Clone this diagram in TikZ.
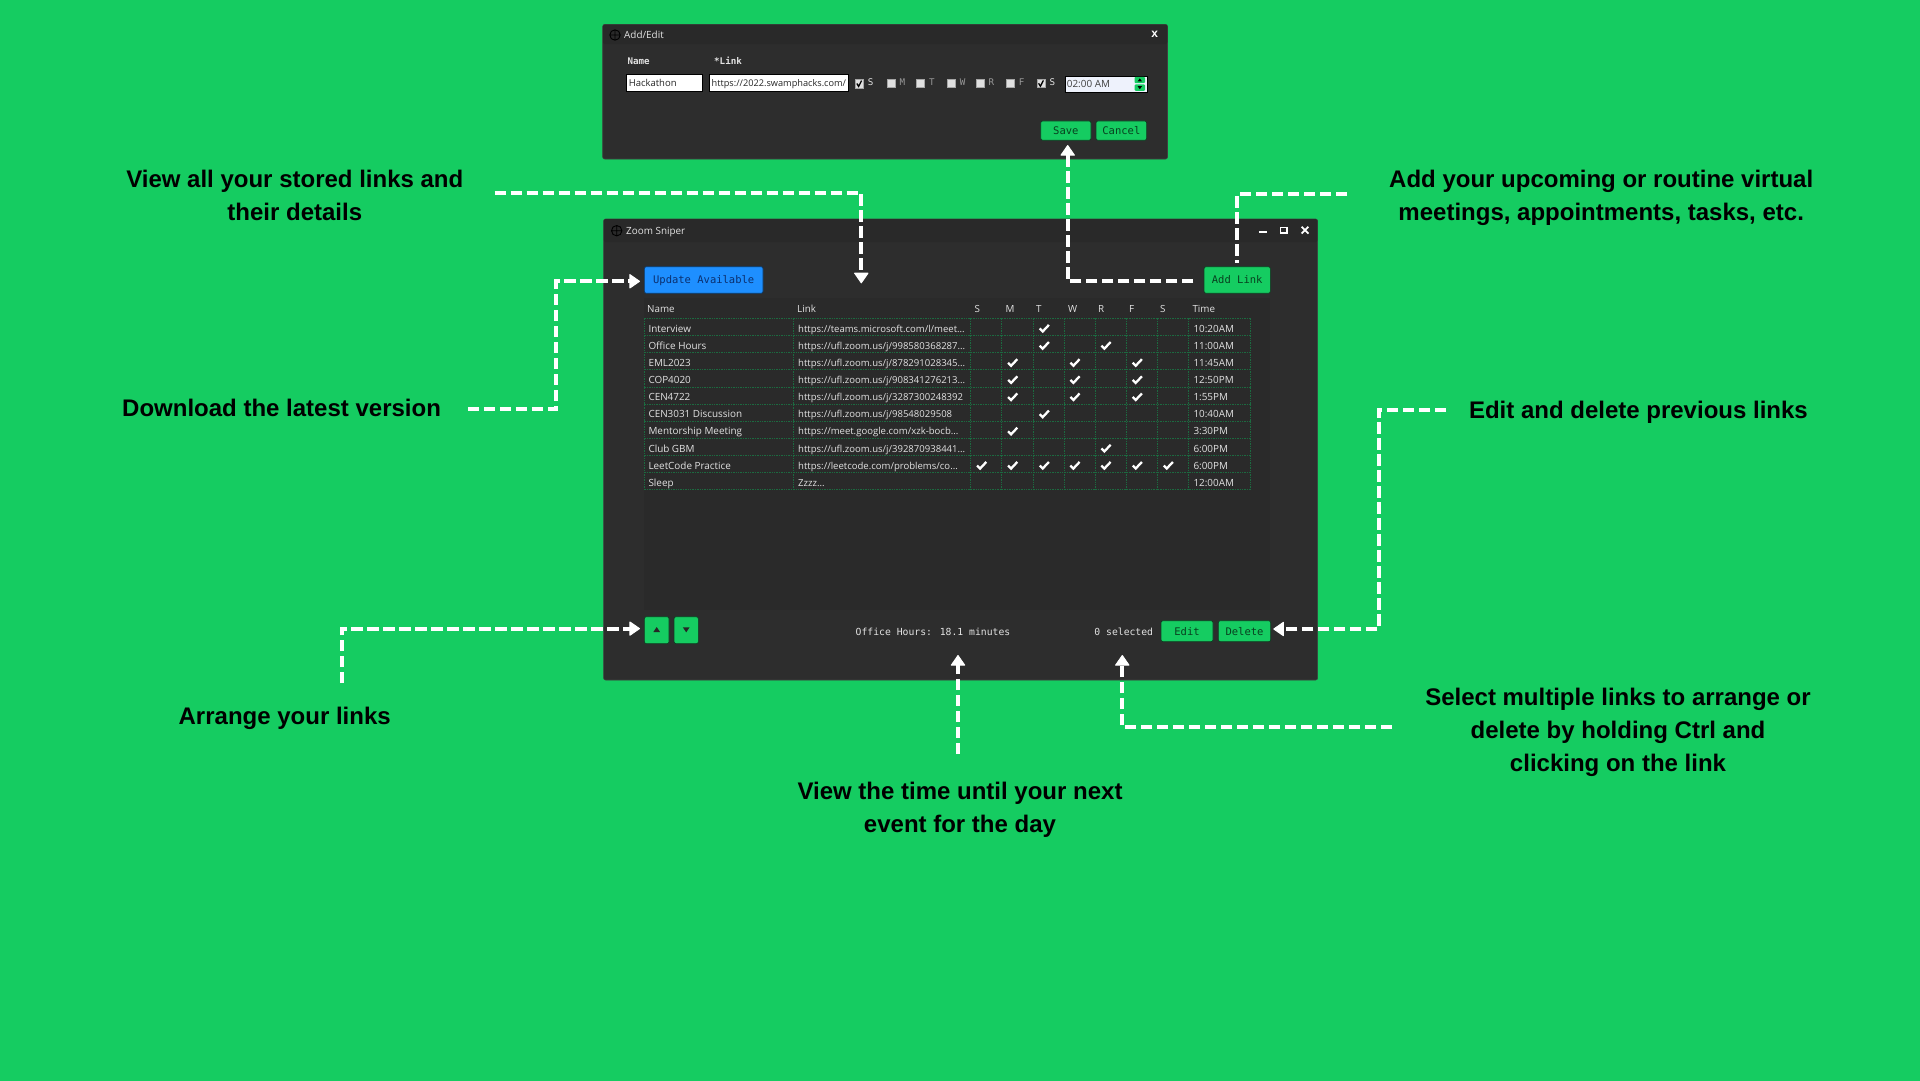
\documentclass[tikz,border=0pt]{standalone}
\usepackage{fontspec}
\setmainfont{Liberation Sans}
\newfontfamily\uifont{Open Sans}
\newfontfamily\uimono{DejaVu Sans Mono}
\usetikzlibrary{arrows.meta,calc}
\definecolor{bggreen}{HTML}{15CC61}
\definecolor{winbg}{HTML}{2D2D2D}
\definecolor{barbg}{HTML}{292929}
\definecolor{panelbg}{HTML}{2A2A2A}
\definecolor{gridc}{HTML}{1C6A40}
\definecolor{uitext}{HTML}{E2E2E2}
\definecolor{btntext}{HTML}{08401F}
\definecolor{btnline}{HTML}{0F3D22}
\definecolor{bluebtn}{HTML}{1E8FFF}
\definecolor{bluetext}{HTML}{0B2F6E}
\definecolor{inputbg}{HTML}{EEF2FC}
\tikzset{
  win/.style={fill=winbg,draw=black!75,line width=.6pt,rounded corners=2pt,inner sep=0pt},
  caption/.style={font=\fontsize{24}{33}\selectfont\bfseries,align=center,text=black,inner sep=0pt},
  uitxt/.style={font=\uifont\fontsize{9.9}{12}\selectfont,text=uitext,inner sep=0pt,anchor=base west},
  linktxt/.style={uitxt,font=\uifont\fontsize{9.55}{12}\selectfont},
  monotxt/.style={font=\uimono\fontsize{9.75}{12}\selectfont,text=uitext,inner sep=0pt},
  btn/.style={fill=bggreen,draw=btnline,line width=.7pt,rounded corners=2pt,inner sep=0pt,
     font=\uimono\fontsize{10.5}{12}\selectfont,text=btntext,text height=7.6pt,text depth=0pt},
  bluebutton/.style={btn,fill=bluebtn,draw=black!60!bluebtn,text=bluetext},
  inputbox/.style={fill=white,draw=black,line width=.4pt,inner sep=0pt},
  cbox/.style={fill=black!12,draw=black!35,line width=.4pt,inner sep=0pt,minimum size=8.4pt},
  cblabel/.style={font=\uimono\fontsize{9.2}{10}\selectfont,text=black!40,inner sep=0pt},
  conn/.style={draw=white,line width=4pt,dash pattern=on 11.5pt off 4.5pt},
  arrowed/.style={conn,-{Triangle[length=11pt,width=15pt,line width=1pt,round]}},
  griddot/.style={draw=gridc,line width=.6pt,dash pattern=on 1.4pt off 1pt},
  tickmark/.style={draw=white,line width=2.3pt,line join=miter},
  winctl/.style={draw=white,line width=1.6pt},
}
\newcommand{\scopeicon}[2]{%
  \draw[black,line width=.9pt] (#1,#2) circle (5.2pt) (#1-5.2,#2) -- (#1+5.2,#2) (#1,#2-5.2) -- (#1,#2+5.2);}
\newcommand{\trow}[5]{%
  \pgfmathsetmacro\rowbase{332.2+17.13*(#1-1)}
  \pgfmathsetmacro\rowmid{328.3+17.13*(#1-1)}
  \node[uitxt] (rn#1) at (648.3,\rowbase) {#2};
  \node[linktxt] (rl#1) at (798,\rowbase) {#3};
  \node[uitxt] (rt#1) at (1193.3,\rowbase) {#4};
  \foreach \d in {#5}{%
    \ifnum\d>0
    \pgfmathsetmacro\cx{{981.7,1012.7,1044.3,1075,1106,1137.3,1168.3}[\d-1]}
    \draw[tickmark] (\cx-4.6,\rowmid+.2) -- (\cx-1.6,\rowmid+3.2) -- (\cx+4.6,\rowmid-3.4);
    \fi
  }}
\begin{document}
\begin{tikzpicture}[x=1pt,y=-1pt]
\useasboundingbox (0,0) rectangle (1920,1080);
\fill[bggreen] (-3,-3) rectangle (1923,1083);

%% ---------- Add/Edit window
\node[win,minimum width=564.8pt,minimum height=134.6pt] (addwin) at (885.1,91.7) {};
\fill[barbg,rounded corners=2pt] (603,24.7) rectangle (1167.3,44);
\scopeicon{615}{35}
\node[uitxt] (addtitle) at (624,38.6) {Add/Edit};
\node[font=\bfseries\fontsize{12}{12}\selectfont,text=white,inner sep=0pt] (addclose) at (1154.7,34.5) {x};
\node[monotxt,font=\uimono\bfseries\fontsize{9.2}{12}\selectfont,anchor=west] (lname) at (627.3,61) {Name};
\node[monotxt,font=\uimono\bfseries\fontsize{9.2}{12}\selectfont,anchor=west] (llink) at (714,61) {*Link};
\node[inputbox,minimum width=75.4pt,minimum height=16.4pt] (iname) at (664,82.5) {};
\node[uitxt,font=\uifont\fontsize{9.5}{12}\selectfont,text=black!85] (inamet) at (628.6,86.2) {Hackathon};
\node[inputbox,minimum width=139pt,minimum height=16.4pt] (ilink) at (778.8,82.5) {};
\node[uitxt,font=\uifont\fontsize{9.2}{12}\selectfont,text=black!85] (ilinkt) at (711.5,86.2) {https://2022.swamphacks.com/};
\node[cbox] (cb1) at (859.2,83.5) {};
\draw[black,line width=1.3pt] (856.8,83.5) -- (858.6,86.4) -- (861.6,80.6);
\node[cblabel,text=uitext] (cl1) at (870.7,82.6) {S};
\node[cbox] (cb2) at (891,83.3) {};
\node[cblabel] (cl2) at (902.3,82.3) {M};
\node[cbox] (cb3) at (920.3,83.3) {};
\node[cblabel] (cl3) at (932,82.3) {T};
\node[cbox] (cb4) at (951,83.3) {};
\node[cblabel] (cl4) at (962.7,82.3) {W};
\node[cbox] (cb5) at (980,83.3) {};
\node[cblabel] (cl5) at (991.3,82.3) {R};
\node[cbox] (cb6) at (1010.3,83.3) {};
\node[cblabel] (cl6) at (1021.7,82.3) {F};
\node[cbox] (cb7) at (1041,83.3) {};
\draw[black,line width=1.3pt] (1038.6,83.3) -- (1040.4,86.2) -- (1043.4,80.4);
\node[cblabel,text=uitext] (cl7) at (1052.3,82.3) {S};
\node[inputbox,fill=inputbg,minimum width=81.7pt,minimum height=16pt] (itime) at (1105.85,83.7) {};
\node[uitxt,text=black!75] (itimet) at (1066.7,87.8) {02:00 AM};
\fill[bggreen,rounded corners=1pt] (1134.6,76.8) rectangle (1145,83.2);
\fill[bggreen,rounded corners=1pt] (1134.6,84.4) rectangle (1145,90.8);
\fill[black] (1139.8,78.4) -- (1142,81.4) -- (1137.6,81.4) -- cycle;
\fill[black] (1139.8,89.2) -- (1142,86.2) -- (1137.6,86.2) -- cycle;
\node[btn,minimum width=50.3pt,minimum height=19.3pt] (save) at (1065.85,130.6) {Save};
\node[btn,minimum width=50.7pt,minimum height=19.3pt] (cancel) at (1121.35,130.6) {Cancel};

%% ---------- Main window
\node[win,minimum width=714pt,minimum height=461pt] (mainwin) at (960.6,449.5) {};
\fill[barbg,rounded corners=2pt] (603.8,219.2) rectangle (1317.4,242);
\scopeicon{616.7}{230.7}
\node[uitxt] (maintitle) at (626,234.4) {Zoom Sniper};
\draw[winctl,line width=2pt] (1258.8,232) -- (1266.6,232);
\node[draw=white,line width=1.4pt,minimum width=6.4pt,minimum height=5.4pt,inner sep=0pt] (maxbtn) at (1283.7,230.3) {};
\draw[winctl,line width=1.8pt] (1301.6,226.8) -- (1308.4,233.6) (1301.6,233.6) -- (1308.4,226.8);
\node[bluebutton,minimum width=118.7pt,minimum height=26.6pt] (update) at (703.7,280) {Update Available};
\node[btn,minimum width=66.3pt,minimum height=26.6pt] (addlink) at (1237.2,280) {Add Link};
\fill[panelbg] (644.3,298) rectangle (1270.3,610);

%% table headers
\foreach \tx/\ty/\tn in {647/Name/hn,797/Link/hl,974.5/S/h1,1005.5/M/h2,1036/T/h3,1068/W/h4,1098/R/h5,1129/F/h6,1160/S/h7,1192.3/Time/ht}{
  \node[uitxt,font=\uifont\fontsize{9.8}{12}\selectfont] (\tn) at (\tx,312) {\ty};
}
%% grid
\foreach \i in {0,...,10}{
  \draw[griddot] (644.3,{318.3+17.13*\i}) -- (1250.7,{318.3+17.13*\i});
}
\foreach \cxx in {644.3,793.7,970.7,1001.7,1033,1064,1095.3,1126.7,1157.7,1188.7,1250.7}{
  \draw[griddot] (\cxx,318.3) -- (\cxx,489.6);
}
%% rows
\trow{1}{Interview}{https://teams.microsoft.com/l/meet...}{10:20AM}{3}
\trow{2}{Office Hours}{https://ufl.zoom.us/j/998580368287...}{11:00AM}{3,5}
\trow{3}{EML2023}{https://ufl.zoom.us/j/878291028345...}{11:45AM}{2,4,6}
\trow{4}{COP4020}{https://ufl.zoom.us/j/908341276213...}{12:50PM}{2,4,6}
\trow{5}{CEN4722}{https://ufl.zoom.us/j/3287300248392}{1:55PM}{2,4,6}
\trow{6}{CEN3031 Discussion}{https://ufl.zoom.us/j/98548029508}{10:40AM}{3}
\trow{7}{Mentorship Meeting}{https://meet.google.com/xzk-bocb...}{3:30PM}{2}
\trow{8}{Club GBM}{https://ufl.zoom.us/j/392870938441...}{6:00PM}{5}
\trow{9}{LeetCode Practice}{https://leetcode.com/problems/co...}{6:00PM}{1,2,3,4,5,6,7}
\trow{10}{Sleep}{Zzzz...}{12:00AM}{0}

%% bottom bar
\node[btn,minimum width=24.7pt,minimum height=27pt] (upbtn) at (656.7,630.2) {};
\node[btn,minimum width=24.3pt,minimum height=27pt] (downbtn) at (686.2,630.2) {};
\fill[black!85] (656.7,627) -- (660,632) -- (653.4,632) -- cycle;
\fill[black!85] (686.2,632.4) -- (689.5,627.4) -- (682.9,627.4) -- cycle;
\node[monotxt] (nextev) at (933,631.5) {Office Hours: 18.1 minutes};
\node[monotxt,anchor=east] (selcount) at (1153.3,631.5) {0 selected};
\node[btn,minimum width=52pt,minimum height=21pt] (editb) at (1187,631.2) {Edit};
\node[btn,minimum width=52.4pt,minimum height=21pt] (delb) at (1244.5,631.2) {Delete};

%% ---------- Captions
\node[caption] (capview) at (294.8,195.3) {View all your stored links and\\their details};
\node[caption] (capadd) at (1601.2,197.8) {Add your upcoming or routine virtual\\meetings, appointments, tasks, etc.};
\node[caption] (capdown) at (281.6,408.4) {Download the latest version};
\node[caption] (capedit) at (1638.4,412) {Edit and delete previous links};
\node[caption] (caparr) at (284.7,718.5) {Arrange your links};
\node[caption] (captime) at (960,809.6) {View the time until your next\\event for the day};
\node[caption] (capsel) at (1618,732.3) {Select multiple links to arrange or\\delete by holding Ctrl and\\clicking on the link};

%% ---------- Connector ends
\coordinate (a1) at (494.7,192.6);  \coordinate (a2) at (861.3,283.3);
\coordinate (b1) at (1347,194);     \coordinate (b2) at (1237.3,262.7);
\coordinate (c1) at (1193.3,281);   \coordinate (c2) at (1067.7,145);
\coordinate (d1) at (467.8,409);    \coordinate (d2) at (556,281.3); \coordinate (d3) at (640,281.3);
\coordinate (e1) at (1446,409.6);   \coordinate (e2) at (1378.8,629); \coordinate (e3) at (1273.3,629);
\coordinate (f1) at (341.6,683);    \coordinate (f2) at (640,628.6);
\coordinate (g1) at (958,754);      \coordinate (g2) at (958,655);
\coordinate (h1c) at (1392,727.4);  \coordinate (h2c) at (1122.3,655);

\draw[arrowed] (a1) -| (a2);
\draw[conn] (b1) -| (b2);
\draw[arrowed] (c1) -| (c2);
\draw[arrowed] (d1) -| (d2) -- (d3);
\draw[arrowed] (e1) -| (e2) -- (e3);
\draw[arrowed] (f1) |- (f2);
\draw[arrowed] (g1) -- (g2);
\draw[arrowed] (h1c) -| (h2c);
\end{tikzpicture}
\end{document}
